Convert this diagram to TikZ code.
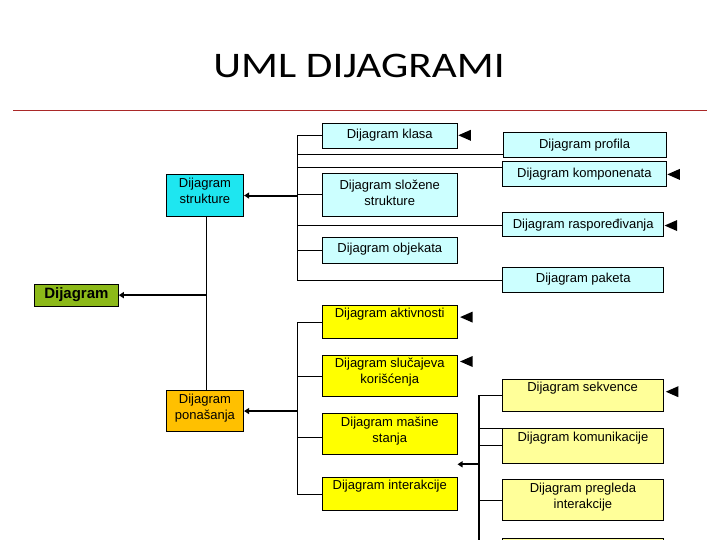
\documentclass[tikz,border=0pt]{standalone}
\usepackage{fontspec}
\setmainfont{Liberation Sans}
\newfontfamily\titlefont{Carlito}
\usetikzlibrary{arrows.meta,calc}
\definecolor{lcyan}{RGB}{204,255,255}
\definecolor{scyan}{RGB}{30,230,240}
\definecolor{sorange}{RGB}{255,192,0}
\definecolor{sgreen}{RGB}{140,185,25}
\definecolor{syellow}{RGB}{255,255,0}
\definecolor{lyellow}{RGB}{255,255,153}
\definecolor{sred}{RGB}{170,40,40}
\begin{document}
\begin{tikzpicture}[x=1pt,y=-1pt,
  box/.style={draw, line width=0.8pt, inner sep=0pt, anchor=north west},
  cbox/.style={box, fill=lcyan},
  ybox/.style={box, fill=syellow},
  lybox/.style={box, fill=lyellow},
  txt/.style={anchor=north, inner sep=0pt, align=center, font=\fontsize{13}{16}\selectfont},
  conn/.style={line width=0.8pt},
  thk/.style={line width=2pt, -{Triangle[length=5pt,width=6pt]}},
  tri/.style={fill=black}]
\useasboundingbox (0,0) rectangle (720,540);

% title
\node[anchor=base, inner sep=0pt, font=\titlefont\fontsize{36}{40}\selectfont] (title) at (359,78) {\scalebox{1.2}[1]{UML DIJAGRAMI}};
\coordinate (rl) at (13,110.5);
\coordinate (rr) at (707,110.5);
\draw[sred, line width=1pt] (rl) -- (rr);

% bus coordinates
\coordinate (sx) at (297,0);
\coordinate (vx) at (206.5,0);
\coordinate (ix) at (479.3,0);
\coordinate (iend) at (479.3,548);

% root
\node[box, fill=sgreen, minimum width=84, minimum height=22.5, font=\bfseries\fontsize{15}{17}\selectfont] (dijagram) at (34,283.5) {Dijagram};

% structure
\node[box, fill=scyan, minimum width=77.6, minimum height=42.3,
  label={[txt,yshift=-3.7pt]north:Dijagram\\strukture}] (strukture) at (165.7,174) {};
\node[cbox, minimum width=134.7, minimum height=24.4,
  label={[txt,yshift=-6pt]north:Dijagram klasa}] (klasa) at (322,123.3) {};
\node[cbox, minimum width=134.7, minimum height=42.4,
  label={[txt,yshift=-6.7pt]north:Dijagram složene\\strukture}] (slozene) at (322,173.3) {};
\node[cbox, minimum width=134.7, minimum height=25.4,
  label={[txt,yshift=-6pt]north:Dijagram objekata}] (objekata) at (322,237.3) {};
\node[cbox, minimum width=163, minimum height=25,
  label={[txt,yshift=-7pt]north:Dijagram profila}] (profila) at (502.7,132.3) {};
\node[cbox, minimum width=163.4, minimum height=25,
  label={[txt,yshift=-7pt]north:Dijagram komponenata}] (komponenata) at (502.3,161.3) {};
\node[cbox, minimum width=161, minimum height=24.3,
  label={[txt,yshift=-7pt]north:Dijagram raspoređivanja}] (rasporedivanja) at (502.3,212) {};
\node[cbox, minimum width=161, minimum height=25,
  label={[txt,yshift=-6pt]north:Dijagram paketa}] (paketa) at (502.3,267.3) {};

% behaviour
\node[box, fill=sorange, minimum width=77.6, minimum height=41.3,
  label={[txt,yshift=-4.3pt]north:Dijagram\\ponašanja}] (ponasanja) at (165.7,390) {};
\node[ybox, minimum width=134.7, minimum height=33.6,
  label={[txt,yshift=-3.5pt]north:Dijagram aktivnosti}] (aktivnosti) at (322,304.7) {};
\node[ybox, minimum width=134.7, minimum height=41.6,
  label={[txt,yshift=-3.6pt]north:Dijagram slučajeva\\korišćenja}] (slucajeva) at (322,354.7) {};
\node[ybox, minimum width=134.7, minimum height=41,
  label={[txt,yshift=-3.4pt]north:Dijagram mašine\\stanja}] (masine) at (322,413.3) {};
\node[ybox, minimum width=134.7, minimum height=32.7,
  label={[txt,yshift=-2.7pt]north:Dijagram interakcije}] (interakcije) at (322,477.3) {};

% interaction
\node[lybox, minimum width=161, minimum height=32.6,
  label={[txt,yshift=-3pt]north:Dijagram sekvence}] (sekvence) at (501.7,378.7) {};
\node[lybox, minimum width=161, minimum height=34.4,
  label={[txt,yshift=-3.4pt]north:Dijagram komunikacije}] (komunikacije) at (502,428.3) {};
\node[lybox, minimum width=161, minimum height=41,
  label={[txt,yshift=-3.4pt]north:Dijagram pregleda\\interakcije}] (pregleda) at (502,479.3) {};
\node[lybox, minimum width=161, minimum height=30] (vremenski) at (502,537.7) {};

% connector end points on boxes
\coordinate (pfin) at ($(profila.south west)+(0,-4)$);
\coordinate (kmin) at ($(komponenata.north west)+(0,6)$);
\coordinate (rsin) at ($(rasporedivanja.west)+(0,1)$);
\coordinate (msin) at ($(masine.west)+(0,3)$);
\coordinate (kmbin) at ($(komunikacije.north west)+(0,17.4)$);
\coordinate (iain) at ($(interakcije.north east)+(0,-13)$);

% structure connectors
\draw[conn] (klasa.west) -- (klasa.west -| sx) -- (sx |- paketa.west) -- (paketa.west);
\draw[conn] (sx |- slozene.west) -- (slozene.west);
\draw[conn] (sx |- objekata.west) -- (objekata.west);
\draw[conn] (sx |- pfin) -- (pfin);
\draw[conn] (sx |- kmin) -- (kmin);
\draw[conn] (sx |- rsin) -- (rsin);
\draw[thk] (sx |- strukture.east) -- (strukture.east);

% behaviour connectors
\draw[conn] (aktivnosti.west) -- (aktivnosti.west -| sx) -- (sx |- interakcije.west) -- (interakcije.west);
\draw[conn] (sx |- slucajeva.west) -- (slucajeva.west);
\draw[conn] (sx |- msin) -- (msin);
\draw[thk] (sx |- ponasanja.east) -- (ponasanja.east);

% root connectors
\draw[conn] (strukture.south -| vx) -- (ponasanja.north -| vx);
\draw[thk] (vx |- dijagram.east) -- (dijagram.east);

% interaction connectors
\draw[line width=2pt] (ix |- sekvence.west) -- (iend);
\draw[conn] (ix |- sekvence.west) -- (sekvence.west);
\draw[conn] (ix |- komunikacije.north west) -- (komunikacije.north west);
\draw[conn] (ix |- kmbin) -- (kmbin);
\draw[conn] (ix |- pregleda.west) -- (pregleda.west);
\draw[thk] (ix |- iain) -- (iain);

% loose arrowheads
\fill[tri] ($(klasa.east)+(0.8,-0.6)$) -- ++(12.5,-5.5) -- ++(0,11) -- cycle;
\fill[tri] ($(komponenata.east)+(0.8,0.2)$) -- ++(12.5,-5.5) -- ++(0,11) -- cycle;
\fill[tri] ($(rasporedivanja.east)+(0.5,1)$) -- ++(12.5,-5.5) -- ++(0,11) -- cycle;
\fill[tri] ($(aktivnosti.east)+(2.6,-4.8)$) -- ++(12.5,-5.5) -- ++(0,11) -- cycle;
\fill[tri] ($(slucajeva.north east)+(2.6,6.8)$) -- ++(12.5,-5.5) -- ++(0,11) -- cycle;
\fill[tri] ($(sekvence.east)+(2.3,-3.7)$) -- ++(12.5,-5.5) -- ++(0,11) -- cycle;
\end{tikzpicture}
\end{document}
